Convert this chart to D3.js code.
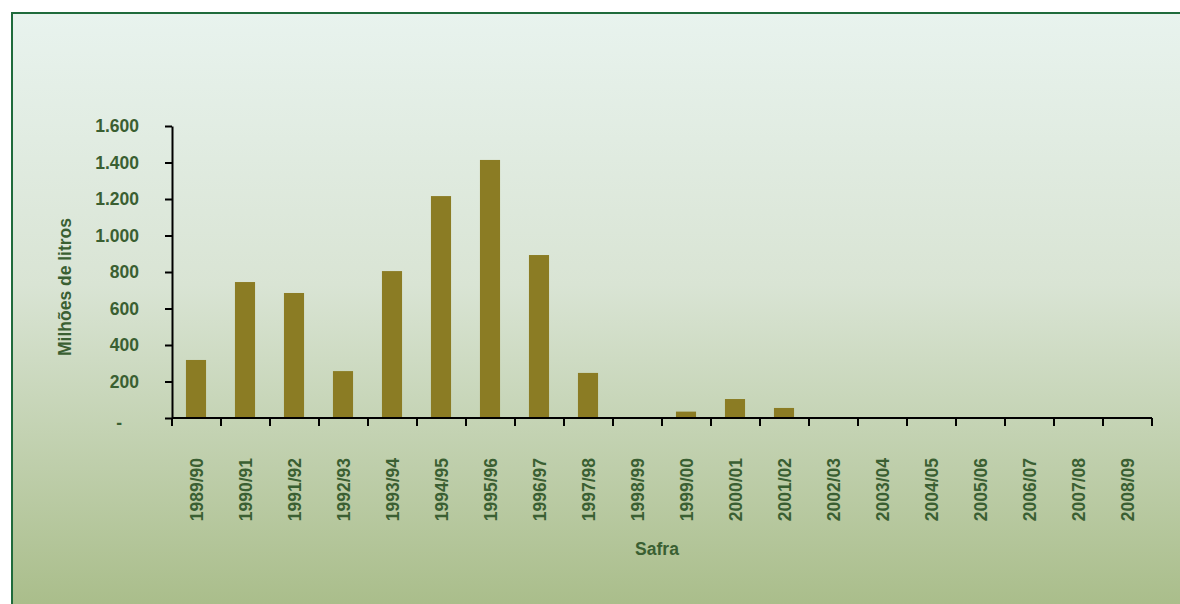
<!DOCTYPE html>
<html>
<head>
<meta charset="utf-8">
<script src="https://cdn.jsdelivr.net/npm/d3@7"></script>
<style>
  body { margin: 0; background: #fff; }
  svg { display: block; font-family: "Liberation Sans", Arial, sans-serif; }
</style>
</head>
<body>
<div id="chart"></div>
<script>
// safra (harvest) labels and volumes, millions of litres
const safras = ["1989/90", "1990/91", "1991/92", "1992/93", "1993/94", "1994/95", "1995/96",
  "1996/97", "1997/98", "1998/99", "1999/00", "2000/01", "2001/02", "2002/03", "2003/04",
  "2004/05", "2005/06", "2006/07", "2007/08", "2008/09"];
const volumes = [318, 745, 685, 257, 805, 1216, 1414, 893, 247, 0, 35, 104, 55, 5, 0, 0, 0, 0, 0, 0];
const yTicks = [0, 200, 400, 600, 800, 1000, 1200, 1400, 1600];

const W = 1180, H = 604;
const plotL = 172, plotR = 1152, plotT = 126, plotB = 418;
const textColor = "#3a5f32";
const fontSize = "17.5px";

const svg = d3.select("#chart").append("svg")
  .attr("width", W).attr("height", H);

const defs = svg.append("defs");
const grad = defs.append("linearGradient")
  .attr("id", "bg").attr("x1", 0).attr("y1", 0).attr("x2", 0).attr("y2", 1);
grad.append("stop").attr("offset", "0%").attr("stop-color", "#e8f3ee");
grad.append("stop").attr("offset", "45%").attr("stop-color", "#d9e4d4");
grad.append("stop").attr("offset", "100%").attr("stop-color", "#a8bc88");

// panel with green frame, running off the right and bottom edges
svg.append("rect")
  .attr("x", 12).attr("y", 13)
  .attr("width", W).attr("height", H)
  .attr("fill", "url(#bg)")
  .attr("stroke", "#1f6b3c")
  .attr("stroke-width", 2);

const x = d3.scaleBand().domain(safras).range([plotL, plotR]).padding(0);
const y = d3.scaleLinear().domain([0, 1600]).range([plotB, plotT]);

const fmt = d => d === 0 ? "-" : d3.format(",")(d).replace(/,/g, ".");

// bars
const barW = x.bandwidth() * 0.41;
svg.append("g").selectAll("rect")
  .data(volumes)
  .join("rect")
  .attr("x", (d, i) => x(safras[i]) + (x.bandwidth() - barW) / 2 - 0.5)
  .attr("y", d => y(d))
  .attr("width", barW)
  .attr("height", d => y(0) - y(d))
  .attr("fill", "#8b7c24");

// y axis
const yAxis = svg.append("g")
  .attr("transform", `translate(${plotL},0)`)
  .call(d3.axisLeft(y).tickValues(yTicks).tickFormat(fmt).tickSize(7).tickSizeOuter(0));
yAxis.select(".domain").attr("stroke", "#000").attr("stroke-width", 2);
yAxis.selectAll(".tick line").attr("stroke", "#000").attr("stroke-width", 2);
yAxis.selectAll(".tick text")
  .attr("x", d => d === 0 ? -50 : -33)
  .attr("dy", d => d === 0 ? "0.6em" : "0.32em")
  .attr("fill", textColor)
  .style("font-size", fontSize)
  .style("font-weight", "bold");

// x axis: ticks on band boundaries
const xAxis = svg.append("g");
xAxis.append("line")
  .attr("x1", plotL).attr("x2", plotR)
  .attr("y1", plotB).attr("y2", plotB)
  .attr("stroke", "#000").attr("stroke-width", 2);
const bounds = safras.map(s => x(s)).concat([plotR]);
xAxis.selectAll("line.tk")
  .data(bounds)
  .join("line")
  .attr("class", "tk")
  .attr("x1", d => d).attr("x2", d => d)
  .attr("y1", plotB).attr("y2", plotB + 8)
  .attr("stroke", "#000").attr("stroke-width", 2);

svg.append("g").selectAll("text")
  .data(safras)
  .join("text")
  .attr("transform", d => `translate(${x(d) + x.bandwidth() / 2},458) rotate(-90)`)
  .attr("text-anchor", "end")
  .attr("dy", "0.36em")
  .attr("fill", textColor)
  .style("font-size", fontSize)
  .style("font-weight", "bold")
  .text(d => d);

// axis titles
svg.append("text")
  .attr("x", 657).attr("y", 555)
  .attr("text-anchor", "middle")
  .attr("fill", textColor)
  .style("font-size", fontSize)
  .style("font-weight", "bold")
  .text("Safra");

svg.append("text")
  .attr("transform", "translate(71,287) rotate(-90)")
  .attr("text-anchor", "middle")
  .attr("fill", textColor)
  .style("font-size", fontSize)
  .style("font-weight", "bold")
  .text("Milhões de litros");
</script>
</body>
</html>
